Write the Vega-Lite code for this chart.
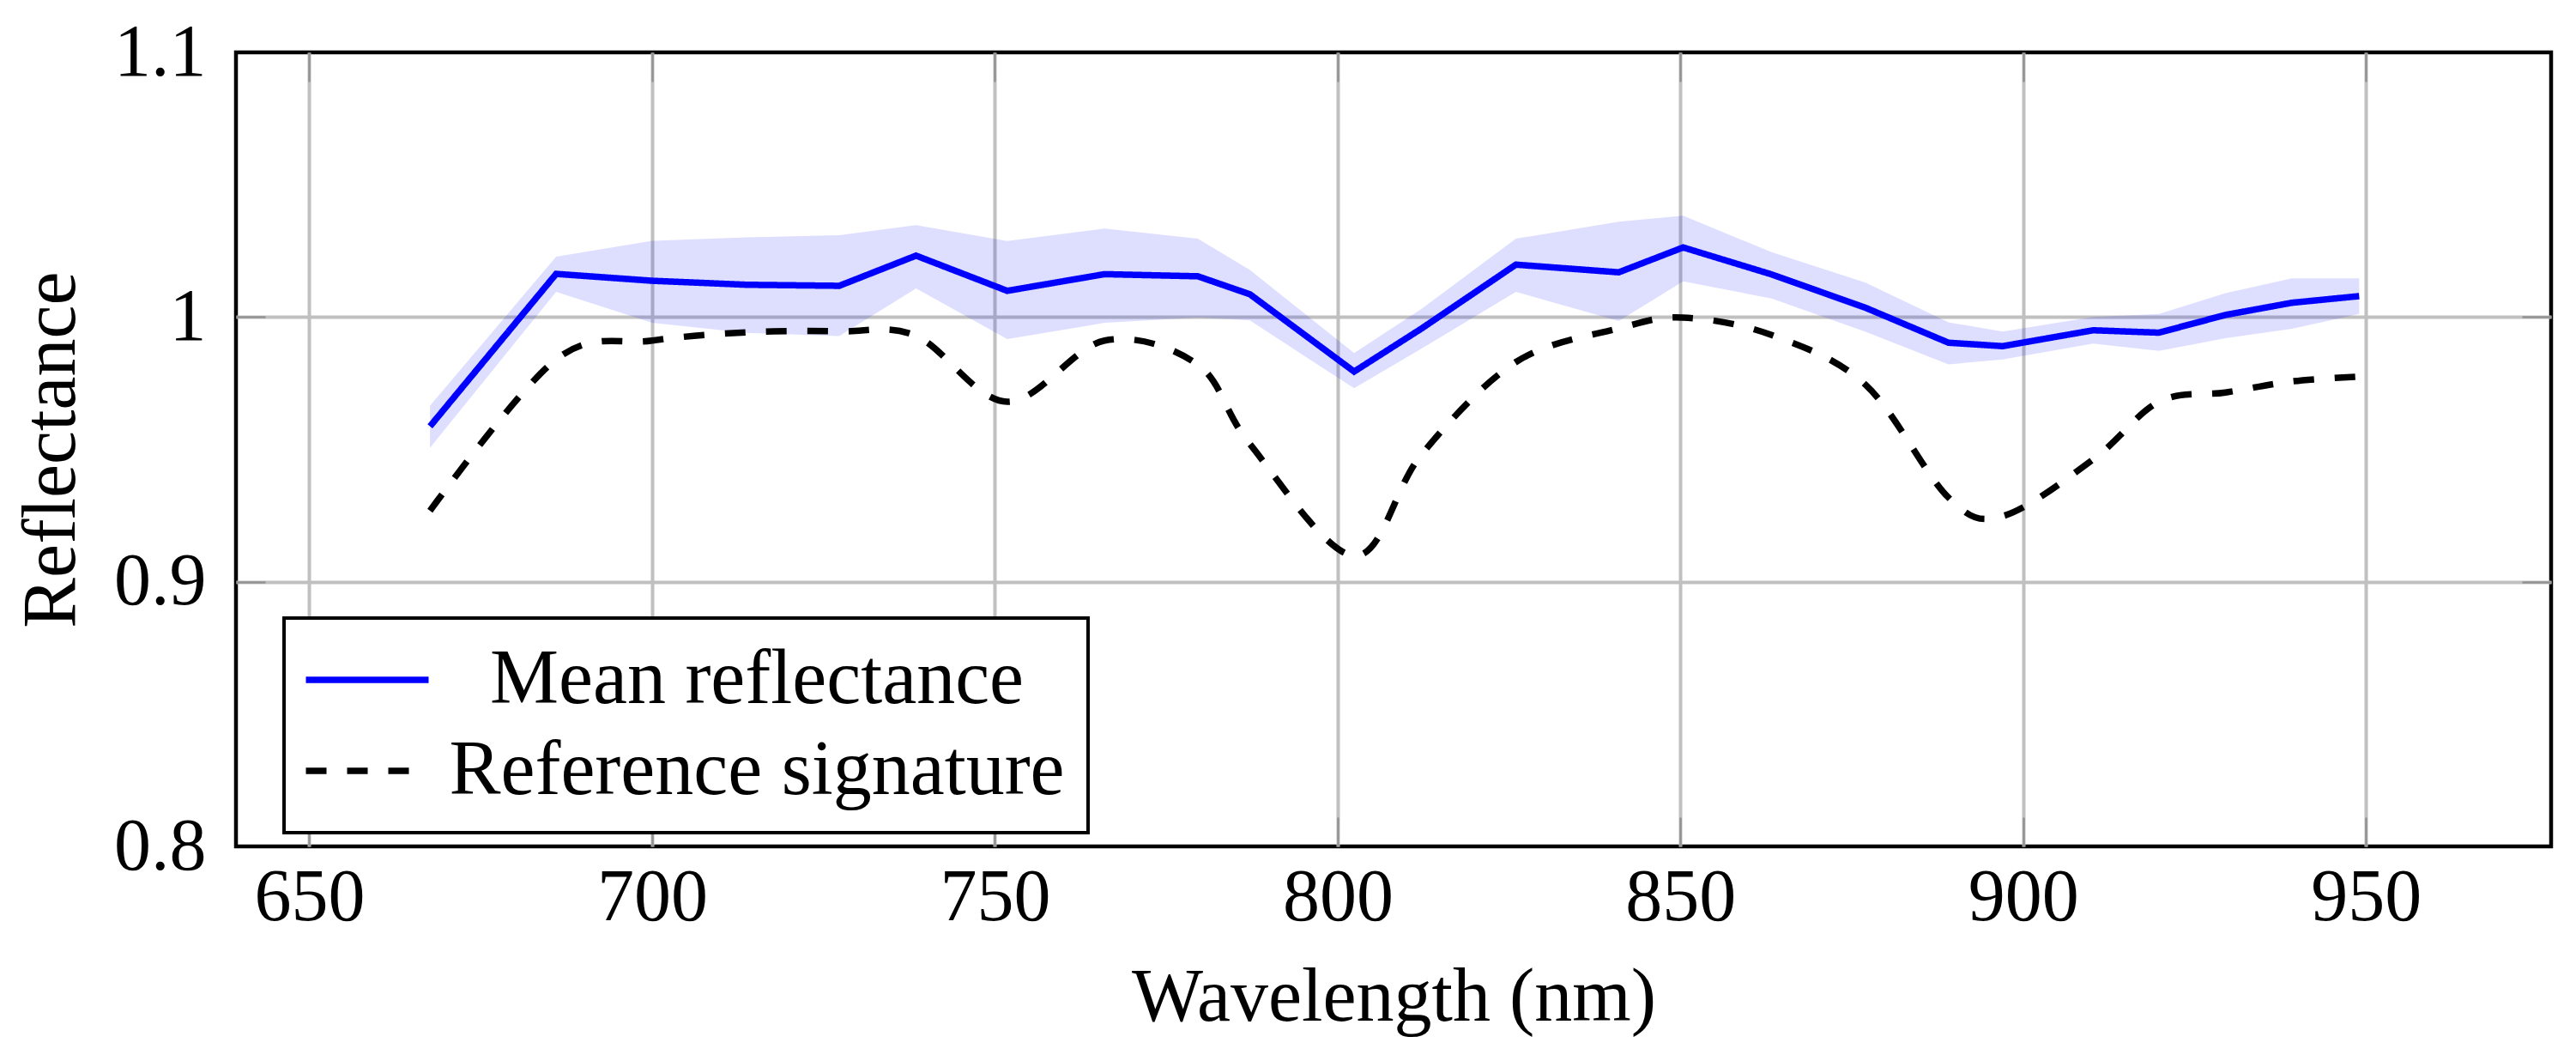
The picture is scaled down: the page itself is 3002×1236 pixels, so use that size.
{
  "$schema": "https://vega.github.io/schema/vega-lite/v6.json",
  "width": 2698,
  "height": 925,
  "autosize": {"type": "none"},
  "padding": {"left": 275, "top": 61, "right": 29, "bottom": 250},
  "background": "white",
  "data": {
    "values": [
      {"wl": 667.6, "lo": 0.9506, "hi": 0.9665, "mean": 0.9587, "ref": 0.9268},
      {"wl": 686.0, "lo": 1.0095, "hi": 1.0228, "mean": 1.0163, "ref": 0.984},
      {"wl": 700.0, "lo": 0.9978, "hi": 1.0288, "mean": 1.0137, "ref": 0.9911},
      {"wl": 713.8, "lo": 0.994, "hi": 1.0301, "mean": 1.0122, "ref": 0.9942},
      {"wl": 727.3, "lo": 0.9928, "hi": 1.0309, "mean": 1.0118, "ref": 0.9946},
      {"wl": 738.5, "lo": 1.0108, "hi": 1.0347, "mean": 1.0232, "ref": 0.9929},
      {"wl": 751.8, "lo": 0.9917, "hi": 1.0287, "mean": 1.0099, "ref": 0.968},
      {"wl": 766.0, "lo": 0.9978, "hi": 1.0334, "mean": 1.0162, "ref": 0.9911},
      {"wl": 779.6, "lo": 0.9998, "hi": 1.0296, "mean": 1.0154, "ref": 0.982},
      {"wl": 787.2, "lo": 0.9987, "hi": 1.0178, "mean": 1.0086, "ref": 0.952},
      {"wl": 802.4, "lo": 0.9731, "hi": 0.9864, "mean": 0.9794, "ref": 0.9098},
      {"wl": 812.2, "lo": 0.988, "hi": 1.003, "mean": 0.9956, "ref": 0.948},
      {"wl": 826.0, "lo": 1.0095, "hi": 1.0296, "mean": 1.0198, "ref": 0.983},
      {"wl": 841.0, "lo": 0.9985, "hi": 1.036, "mean": 1.0169, "ref": 0.9957},
      {"wl": 850.4, "lo": 1.0135, "hi": 1.0383, "mean": 1.0263, "ref": 0.9998},
      {"wl": 863.3, "lo": 1.007, "hi": 1.0245, "mean": 1.0161, "ref": 0.9932},
      {"wl": 877.0, "lo": 0.9944, "hi": 1.013, "mean": 1.0035, "ref": 0.9744},
      {"wl": 889.1, "lo": 0.9821, "hi": 0.998, "mean": 0.9903, "ref": 0.9318},
      {"wl": 897.0, "lo": 0.984, "hi": 0.9945, "mean": 0.989, "ref": 0.9248},
      {"wl": 910.2, "lo": 0.99, "hi": 1.0, "mean": 0.995, "ref": 0.9462},
      {"wl": 919.8, "lo": 0.9872, "hi": 1.0012, "mean": 0.9941, "ref": 0.968},
      {"wl": 929.5, "lo": 0.992, "hi": 1.009, "mean": 1.0008, "ref": 0.9715},
      {"wl": 939.2, "lo": 0.9956, "hi": 1.0146, "mean": 1.0054, "ref": 0.9757},
      {"wl": 949.0, "lo": 1.0012, "hi": 1.0146, "mean": 1.0079, "ref": 0.9775}
    ]
  },
  "resolve": {"axis": {"x": "independent", "y": "independent"}},
  "layer": [
    {
      "mark": {"type": "area", "color": "#0000ff", "opacity": 0.13},
      "encoding": {
        "x": {
          "field": "wl",
          "type": "quantitative",
          "scale": {"domain": [639.3, 977], "nice": false, "zero": false},
          "axis": {
            "orient": "bottom",
            "title": "Wavelength (nm)",
            "values": [650, 700, 750, 800, 850, 900, 950],
            "grid": true,
            "domain": false,
            "tickSize": -34,
            "labelPadding": 51,
            "titlePadding": 30
          }
        },
        "y": {
          "field": "lo",
          "type": "quantitative",
          "scale": {"domain": [0.8, 1.1], "nice": false, "zero": false},
          "axis": {
            "orient": "left",
            "title": "Reflectance",
            "values": [0.8, 0.9, 1, 1.1],
            "labelExpr": "datum.value == 1 ? '1' : format(datum.value, '.1f')",
            "grid": true,
            "domain": false,
            "tickSize": -34,
            "labelPadding": 69,
            "titlePadding": 28,
            "gridOpacity": {"condition": {"test": "datum.value < 0.85 || datum.value > 1.05", "value": 0}, "value": 1},
            "tickOpacity": {"condition": {"test": "datum.value < 0.85 || datum.value > 1.05", "value": 0}, "value": 1}
          }
        },
        "y2": {"field": "hi"}
      }
    },
    {
      "mark": {"type": "line", "strokeWidth": 7.5, "interpolate": "cardinal"},
      "encoding": {
        "x": {
          "field": "wl",
          "type": "quantitative",
          "axis": {
            "orient": "top",
            "title": null,
            "labels": false,
            "grid": false,
            "domain": false,
            "values": [650, 700, 750, 800, 850, 900, 950],
            "tickSize": -34
          }
        },
        "y": {
          "field": "ref",
          "type": "quantitative",
          "axis": {
            "orient": "right",
            "title": null,
            "labels": false,
            "grid": false,
            "domain": false,
            "values": [0.9, 1],
            "tickSize": -34
          }
        },
        "color": {
          "datum": "Reference signature",
          "type": "nominal",
          "scale": {"domain": ["Mean reflectance", "Reference signature"], "range": ["#0000ff", "#000000"]},
          "legend": {"orient": "none", "legendX": 56, "legendY": 659, "title": null}
        },
        "strokeDash": {
          "datum": "Reference signature",
          "type": "nominal",
          "scale": {"domain": ["Mean reflectance", "Reference signature"], "range": [[1, 0], [24, 24]]},
          "legend": {"orient": "none", "legendX": 56, "legendY": 659, "title": null}
        }
      }
    },
    {
      "mark": {"type": "line", "strokeWidth": 7.5},
      "encoding": {
        "x": {"field": "wl", "type": "quantitative", "axis": null},
        "y": {"field": "mean", "type": "quantitative", "axis": null},
        "color": {"datum": "Mean reflectance", "type": "nominal"},
        "strokeDash": {"datum": "Mean reflectance", "type": "nominal"}
      }
    }
  ],
  "config": {
    "view": {"stroke": "#000000", "strokeWidth": 4.5},
    "axis": {
      "labelFont": "Liberation Serif",
      "labelFontSize": 86,
      "labelColor": "#000000",
      "titleFont": "Liberation Serif",
      "titleFontSize": 88,
      "titleFontWeight": "normal",
      "titleColor": "#000000",
      "gridColor": "#c0c0c0",
      "gridWidth": 4,
      "tickColor": "#929292",
      "tickWidth": 2.5
    },
    "legend": {
      "labelFont": "Liberation Serif",
      "labelFontSize": 90,
      "labelColor": "#000000",
      "labelLimit": 0,
      "labelAlign": "center",
      "labelOffset": 409,
      "symbolType": "M-3,0H3",
      "symbolSize": 2272,
      "symbolOffset": 25,
      "symbolStrokeWidth": 7.5,
      "padding": 27,
      "rowPadding": 16,
      "strokeColor": "#000000",
      "fillColor": "#ffffff",
      "strokeWidth": 4
    }
  }
}
